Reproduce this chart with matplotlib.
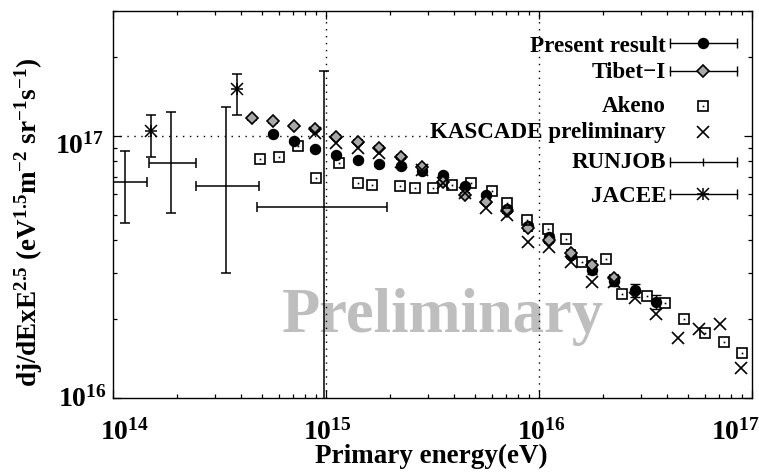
import numpy as np
import matplotlib
matplotlib.use('Agg')
import matplotlib.pyplot as plt
from matplotlib.ticker import LogLocator, NullFormatter

plt.rcParams['font.family'] = ['Liberation Serif', 'DejaVu Serif']
plt.rcParams['font.weight'] = 'bold'
plt.rcParams['mathtext.fontset'] = 'custom'
plt.rcParams['mathtext.rm'] = 'Liberation Serif:bold'
plt.rcParams['mathtext.it'] = 'Liberation Serif:bold'
plt.rcParams['mathtext.bf'] = 'Liberation Serif:bold'
plt.rcParams['mathtext.default'] = 'rm'

# ---------------- data ----------------
present_E = [5.62e14, 7.08e14, 8.91e14, 1.12e15, 1.41e15, 1.78e15, 2.24e15, 2.82e15,
             3.55e15, 4.47e15, 5.62e15, 7.08e15, 8.91e15, 1.12e16, 1.41e16, 1.78e16,
             2.24e16, 2.82e16, 3.55e16]
present_flux = [1.02e17, 9.57e16, 8.92e16, 8.46e16, 8.09e16, 7.82e16, 7.70e16, 7.37e16,
                7.08e16, 6.46e16, 5.95e16, 5.25e16, 4.54e16, 4.13e16, 3.52e16, 3.08e16,
                2.80e16, 2.58e16, 2.33e16]
present_err = [1.5e15, 1.4e15, 1.3e15, 1.3e15, 1.2e15, 1.2e15, 1.2e15, 1.2e15,
               1.2e15, 1.1e15, 1.1e15, 1.0e15, 1.0e15, 1.0e15, 1.0e15, 1.0e15,
               1.3e15, 1.55e15, 1.4e15]

tibet_E = [4.47e14, 5.62e14, 7.08e14, 8.91e14, 1.12e15, 1.41e15, 1.78e15, 2.24e15,
           2.82e15, 3.55e15, 4.47e15, 5.62e15, 7.08e15, 8.91e15, 1.12e16, 1.41e16,
           1.78e16, 2.24e16]
tibet_flux = [1.171e17, 1.136e17, 1.092e17, 1.061e17, 9.94e16, 9.49e16, 9.02e16, 8.31e16,
              7.62e16, 6.69e16, 5.95e16, 5.60e16, 5.17e16, 4.45e16, 4.01e16, 3.57e16,
              3.22e16, 2.86e16]
tibet_err = [1.5e15, 1.5e15, 1.4e15, 1.4e15, 1.3e15, 1.3e15, 1.2e15, 1.2e15,
             1.1e15, 1.0e15, 1.0e15, 1.0e15, 1.0e15, 1.0e15, 1.0e15, 1.0e15,
             1.0e15, 1.0e15]

akeno_E = [4.92e14, 6.04e14, 7.35e14, 9.00e14, 1.147e15, 1.411e15, 1.653e15, 2.214e15,
           2.61e15, 3.19e15, 3.90e15, 4.81e15, 6.02e15, 7.08e15, 8.75e15, 1.108e16,
           1.34e16, 1.597e16, 2.06e16, 2.44e16, 3.20e16, 3.90e16, 4.80e16, 6.02e16,
           7.41e16, 9.01e16]
akeno_flux = [8.20e16, 8.34e16, 9.18e16, 6.94e16, 7.87e16, 6.62e16, 6.48e16, 6.47e16,
              6.32e16, 6.32e16, 6.48e16, 6.63e16, 6.17e16, 5.55e16, 4.76e16, 4.43e16,
              4.03e16, 3.31e16, 3.38e16, 2.49e16, 2.45e16, 2.30e16, 2.01e16, 1.766e16,
              1.632e16, 1.48e16]

kascade_E = [8.91e14, 1.12e15, 1.41e15, 1.78e15, 2.24e15, 2.82e15, 3.55e15, 4.47e15,
             5.62e15, 7.08e15, 8.91e15, 1.12e16, 1.41e16, 1.78e16, 2.24e16, 2.82e16,
             3.55e16, 4.47e16, 5.62e16, 7.08e16, 8.91e16]
kascade_flux = [1.03e17, 9.40e16, 8.98e16, 8.59e16, 7.98e16, 7.41e16, 6.60e16, 6.06e16,
                5.30e16, 4.99e16, 3.95e16, 3.78e16, 3.31e16, 2.76e16, 2.78e16, 2.40e16,
                2.10e16, 1.70e16, 1.83e16, 1.91e16, 1.30e16]

runjob_E = [1.138e14, 1.872e14, 3.39e14, 9.82e14]
runjob_E_lo = [9.0e13, 1.48e14, 2.45e14, 4.74e14]
runjob_E_hi = [1.439e14, 2.45e14, 4.85e14, 1.93e15]
runjob_flux = [6.69e16, 7.87e16, 6.46e16, 5.34e16]
runjob_flux_lo = [4.67e16, 5.10e16, 2.99e16, 5.0e15]
runjob_flux_hi = [8.79e16, 1.238e17, 1.287e17, 1.77e17]

jacee_E = [1.50e14, 3.81e14]
jacee_flux = [1.045e17, 1.51e17]
jacee_flux_lo = [8.34e16, 1.20e17]
jacee_flux_hi = [1.20e17, 1.72e17]

legend_labels = ['Present result', 'Tibet\u2212I', 'Akeno', 'KASCADE preliminary',
                 'RUNJOB', 'JACEE']
xtick_vals = [1e14, 1e15, 1e16, 1e17]
xtick_labels = [r'$10^{14}$', r'$10^{15}$', r'$10^{16}$', r'$10^{17}$']
ytick_vals = [1e16, 1e17]
ytick_labels = [r'$10^{16}$', r'$10^{17}$']

# ---------------- figure ----------------
W, H = 759, 473
fig = plt.figure(figsize=(W / 100, H / 100), dpi=100)
ax = fig.add_axes([113 / W, 75 / H, 639 / W, 387 / H])
ax.set_xscale('log')
ax.set_yscale('log')
ax.set_xlim(1e14, 1e17)
ax.set_ylim(1e16, 3e17)

for sp in ax.spines.values():
    sp.set_linewidth(1.0)

ax.xaxis.set_major_locator(LogLocator(base=10, numticks=20))
ax.xaxis.set_minor_locator(LogLocator(base=10, subs=np.arange(2, 10), numticks=100))
ax.yaxis.set_major_locator(LogLocator(base=10, numticks=20))
ax.yaxis.set_minor_locator(LogLocator(base=10, subs=np.arange(2, 10), numticks=100))
ax.xaxis.set_minor_formatter(NullFormatter())
ax.yaxis.set_minor_formatter(NullFormatter())
ax.tick_params(which='both', direction='in', top=True, right=True,
               labelbottom=False, labelleft=False, width=0.9)
ax.tick_params(which='major', length=5.8)
ax.tick_params(which='minor', length=3.2)

# grid (dotted)
dot = (0, (1, 4))
ax.axvline(1e15, ls=dot, lw=1.0, color='k', zorder=1)
ax.axvline(1e16, ls=dot, lw=1.0, color='k', zorder=1)
ax.axhline(1e17, xmin=0, xmax=(430 - 113) / 639, ls=dot, lw=1.0, color='k', zorder=1)

# watermark
ax.text((282 - 113) / 639, (398 - 332) / 387, 'Preliminary', transform=ax.transAxes,
        fontsize=45, fontweight='bold', color='#bebebe', ha='left', va='baseline',
        zorder=0.5)

# Present result
ax.errorbar(present_E, present_flux, yerr=present_err, fmt='o', ms=7.2, color='k',
            ecolor='k', elinewidth=1.0, capsize=3.5, capthick=1.0, zorder=3)
# Tibet-I
ax.errorbar(tibet_E, tibet_flux, yerr=tibet_err, fmt='D', ms=6.6, mfc='#a8a8a8', mec='k',
            mew=1.2, ecolor='k', elinewidth=1.0, capsize=3.5, capthick=1.0, zorder=4)
# Akeno
ax.plot(akeno_E, akeno_flux, 's', ms=7.3, mfc='none', mec='k', mew=1.2, zorder=5)
ax.plot(akeno_E, akeno_flux, 's', ms=1.2, color='k', mew=0, zorder=5)
# KASCADE
ax.plot(kascade_E, kascade_flux, 'x', ms=8.5, mew=1.2, color='k', zorder=6)
# RUNJOB
rE = np.array(runjob_E); rF = np.array(runjob_flux)
ax.errorbar(rE, rF,
            xerr=[rE - np.array(runjob_E_lo), np.array(runjob_E_hi) - rE],
            yerr=[rF - np.array(runjob_flux_lo), np.array(runjob_flux_hi) - rF],
            fmt='none', ecolor='k', elinewidth=1.1, capsize=3.5, capthick=1.1, zorder=7)
# JACEE
jE = np.array(jacee_E); jF = np.array(jacee_flux)
ax.errorbar(jE, jF, yerr=[jF - np.array(jacee_flux_lo), np.array(jacee_flux_hi) - jF],
            fmt='none', ecolor='k', elinewidth=1.1, capsize=3.5, capthick=1.1, zorder=8)
ax.plot(jE, jF, '+', ms=9, mew=1.1, color='k', zorder=8)
ax.plot(jE, jF, 'x', ms=8, mew=1.1, color='k', zorder=8)

# ---------------- legend (manual, gnuplot style) ----------------
text_x = (666 - 113) / 639
x0, x1, xc = (670 - 113) / 639, (737 - 113) / 639, (703 - 113) / 639
baselines_px = [51.7, 78.3, 111.7, 138.3, 168.3, 201.7]
centers_px = [43.3, 71.0, 106.0, 131.7, 162.3, 194.0]
for lab, bpx in zip(legend_labels, baselines_px):
    ax.text(text_x, (398 - bpx) / 387, lab, transform=ax.transAxes, ha='right',
            va='baseline', fontsize=16.6, fontweight='bold', zorder=10)
cy = [(398 - c) / 387 for c in centers_px]
kw = dict(transform=ax.transAxes, clip_on=False, color='k', zorder=10)
for i in (0, 1, 4, 5):
    ax.plot([x0, x1], [cy[i], cy[i]], lw=1.0, **kw)
    ax.plot([x0, x1], [cy[i], cy[i]], ls='none', marker='|', ms=6.5, mew=1.0, **kw)
ax.plot([xc], [cy[0]], 'o', ms=7.2, **kw)
ax.plot([xc], [cy[1]], 'D', ms=6.6, mfc='#a8a8a8', mec='k', mew=1.2,
        transform=ax.transAxes, clip_on=False, zorder=10)
ax.plot([xc], [cy[2]], 's', ms=7.3, mfc='none', mec='k', mew=1.2,
        transform=ax.transAxes, clip_on=False, zorder=10)
ax.plot([xc], [cy[2]], 's', ms=1.2, mew=0, **kw)
ax.plot([xc], [cy[3]], 'x', ms=8.5, mew=1.2, **kw)
ax.plot([xc], [cy[4]], '|', ms=5.5, mew=1.0, **kw)
ax.plot([xc], [cy[5]], '+', ms=9, mew=1.1, **kw)
ax.plot([xc], [cy[5]], 'x', ms=8, mew=1.1, **kw)

# ---------------- tick labels ----------------
x_off = [12, 1.5, 2.5, -17]
for v, lab, dx in zip(xtick_vals, xtick_labels, x_off):
    ax.annotate(lab, xy=(v, 0), xycoords=('data', 'axes fraction'),
                xytext=(dx, -42), textcoords='offset pixels', ha='center',
                va='baseline', fontsize=20, annotation_clip=False)
y_off = [(-6, -8.7), (-9, -18)]
for v, lab, (dx, dy) in zip(ytick_vals, ytick_labels, y_off):
    ax.annotate(lab, xy=(0, v), xycoords=('axes fraction', 'data'),
                xytext=(dx, dy), textcoords='offset pixels', ha='right',
                va='baseline', fontsize=20, annotation_clip=False)

# axis labels
fig.text(431.5 / W, (H - 463) / H, 'Primary energy(eV)', ha='center', va='baseline',
         fontsize=19.5, fontweight='bold')
fig.text(29 / W, (H - 222) / H,
         r'dj/dExE$^{2.5}$ (eV$^{1.5}$m$^{-2}$ sr$^{-1}$s$^{-1}$)',
         rotation=90, ha='center', va='center', fontsize=19.5, fontweight='bold')

fig.savefig('out.png', dpi=100)
